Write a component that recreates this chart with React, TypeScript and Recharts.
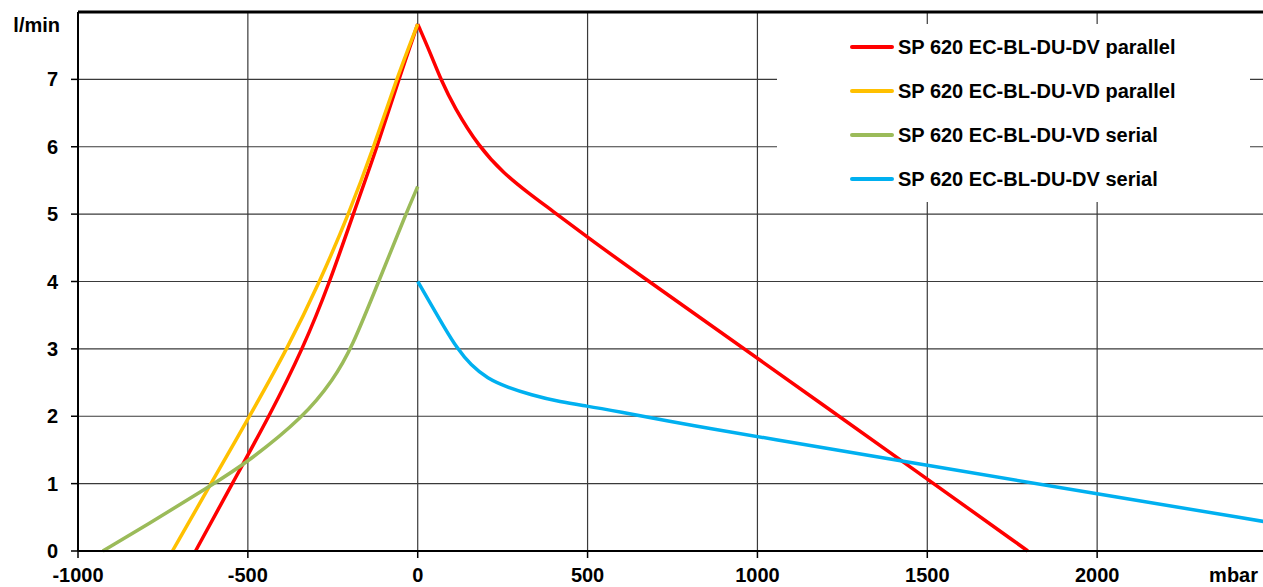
import React from "react";
import {
  CartesianGrid,
  Legend,
  Line,
  LineChart,
  ReferenceLine,
  XAxis,
  YAxis,
} from "recharts";

// pressure (mbar) / flow (l/min)
const redLeftX = [-654, -546, -437, -338, -258, -190, -119, -56, 0];
const redLeftY = [0, 1, 2, 3, 4, 5, 6, 7, 7.82];
const redRightX = [0, 38, 68, 107, 180, 254, 332, 391, 499, 619, 1000, 1500, 1796];
const redRightY = [7.82, 7.38, 7.0, 6.59, 6.0, 5.6, 5.29, 5.07, 4.66, 4.22, 2.86, 1.07, 0];
const orangeX = [-722, -612, -495, -384, -288, -203, -129, -63, 0];
const orangeY = [0, 0.97, 2, 3, 4, 5, 6, 7, 7.82];
const greenX = [-927, -800, -612, -500, -333, -249, -195, -115, -35, 0];
const greenY = [0, 0.38, 0.96, 1.32, 2.0, 2.54, 3, 4, 5, 5.41];
const blueX = [0, 38, 77, 117, 156, 205, 264, 332, 421, 499, 568, 830, 1000, 1500, 2000, 2500];
const blueY = [4.0, 3.67, 3.33, 3.0, 2.76, 2.56, 2.43, 2.32, 2.21, 2.15, 2.09, 1.84, 1.7, 1.27, 0.85, 0.43];

const xTicks = [-1000, -500, 0, 500, 1000, 1500, 2000, 2500];
const yTicks = [0, 1, 2, 3, 4, 5, 6, 7, 8];

const seriesNames = [
  "SP 620 EC-BL-DU-DV parallel",
  "SP 620 EC-BL-DU-VD parallel",
  "SP 620 EC-BL-DU-VD serial",
  "SP 620 EC-BL-DU-DV serial",
];

const zip = (xs: number[], ys: number[]) => xs.map((x, i) => ({ x, y: ys[i] }));

const FONT = "Arial, 'Liberation Sans', sans-serif";
const X_MARGIN = 17;
const Y_MARGIN = 20;
const TICK_LEN = 7;

const YTick = (props: any) => {
  const { x, y, payload } = props;
  if (payload.value === 8) {
    return (
      <text x={x + 2} y={y + 13} dy="0.355em" textAnchor="end" fontFamily={FONT} fontWeight="bold" fontSize={20} fill="#000">
        l/min
      </text>
    );
  }
  return (
    <g>
      <line x1={x + Y_MARGIN - TICK_LEN} x2={x + Y_MARGIN} y1={y} y2={y} stroke="#000" strokeWidth={1.5} />
      <text x={x} y={y} dy="0.355em" textAnchor="end" fontFamily={FONT} fontWeight="bold" fontSize={20} fill="#000">
        {payload.value}
      </text>
    </g>
  );
};

const XTick = (props: any) => {
  const { x, y, payload } = props;
  if (payload.value === 2500) {
    return (
      <text x={x - 9} y={y} dy="0.71em" textAnchor="end" fontFamily={FONT} fontWeight="bold" fontSize={20} fill="#000">
        mbar
      </text>
    );
  }
  return (
    <g>
      <line x1={x} x2={x} y1={y - X_MARGIN} y2={y - X_MARGIN + TICK_LEN} stroke="#000" strokeWidth={1.5} />
      <text x={x} y={y} dy="0.71em" textAnchor="middle" fontFamily={FONT} fontWeight="bold" fontSize={20} fill="#000">
        {payload.value}
      </text>
    </g>
  );
};

const LegendBox = (props: any) => {
  const items = (props.payload || [])
    .filter((p: any) => seriesNames.includes(p.value))
    .sort((a: any, b: any) => seriesNames.indexOf(a.value) - seriesNames.indexOf(b.value));
  return (
    <div style={{ background: "#fff", width: "100%", height: "100%", paddingTop: 1, boxSizing: "border-box" }}>
      {items.map((item: any) => (
        <div key={item.value} style={{ display: "flex", alignItems: "center", height: 44, paddingLeft: 73 }}>
          <span style={{ display: "inline-block", width: 44, height: 4, borderRadius: 2, background: item.color, marginRight: 4 }} />
          <span style={{ fontFamily: FONT, fontWeight: "bold", fontSize: 20, color: "#000", whiteSpace: "nowrap" }}>{item.value}</span>
        </div>
      ))}
    </div>
  );
};

export default function App() {
  return (
    <div style={{ position: "absolute", left: 0, top: 0, width: 1263, height: 587, overflow: "hidden", background: "#fff" }}>
      <LineChart width={1290} height={587} margin={{ top: 12, right: 23, bottom: 6, left: 8 }}>
        <CartesianGrid stroke="#3a3a3a" strokeWidth={1.2} />
        <XAxis
          type="number"
          dataKey="x"
          domain={[-1000, 2500]}
          ticks={xTicks}
          height={30}
          tickSize={0}
          tickMargin={X_MARGIN}
          tickLine={false}
          tick={<XTick />}
          axisLine={{ stroke: "#000", strokeWidth: 2 }}
          allowDataOverflow
        />
        <YAxis
          type="number"
          domain={[0, 8]}
          ticks={yTicks}
          width={70}
          tickSize={0}
          tickMargin={Y_MARGIN}
          tickLine={false}
          tick={<YTick />}
          axisLine={{ stroke: "#000", strokeWidth: 2 }}
        />
        <ReferenceLine y={8} stroke="#000" strokeWidth={3} />
        <Legend
          layout="vertical"
          align="center"
          verticalAlign="middle"
          content={<LegendBox />}
          wrapperStyle={{ left: 777, top: 24, width: 473, height: 178 }}
        />
        <Line data={zip(redLeftX, redLeftY)} dataKey="y" name={seriesNames[0]} type="basis" stroke="#FF0000" strokeWidth={3.5} dot={false} isAnimationActive={false} />
        <Line data={zip(redRightX, redRightY)} dataKey="y" name="red-right" legendType="none" type="basis" stroke="#FF0000" strokeWidth={3.5} dot={false} isAnimationActive={false} />
        <Line data={zip(orangeX, orangeY)} dataKey="y" name={seriesNames[1]} type="basis" stroke="#FFC000" strokeWidth={3.5} dot={false} isAnimationActive={false} />
        <Line data={zip(greenX, greenY)} dataKey="y" name={seriesNames[2]} type="basis" stroke="#9BBB59" strokeWidth={3.5} dot={false} isAnimationActive={false} />
        <Line data={zip(blueX, blueY)} dataKey="y" name={seriesNames[3]} type="basis" stroke="#00B0F0" strokeWidth={3.5} dot={false} isAnimationActive={false} />
      </LineChart>
    </div>
  );
}
